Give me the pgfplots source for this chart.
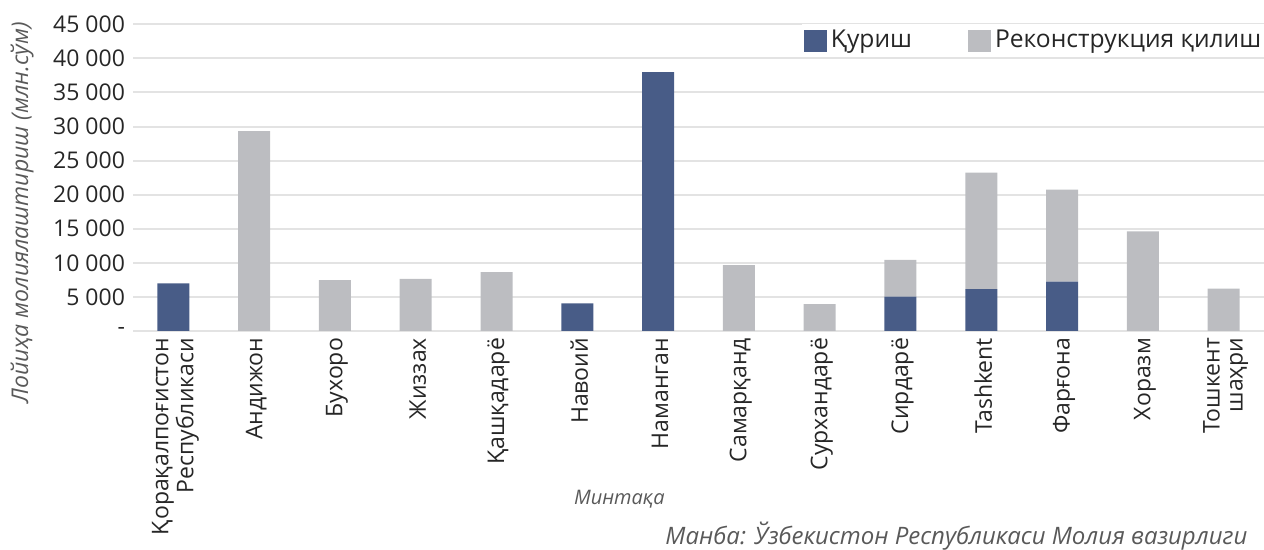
\documentclass[border=0pt]{standalone}
\usepackage{fontspec}
\setmainfont{Open Sans}
\usepackage{pgfplots}
\usepackage{pgfplotstable}
\pgfplotsset{compat=1.18}
\definecolor{kurish}{HTML}{485C87}
\definecolor{rekon}{HTML}{BCBDC1}
\definecolor{gridc}{HTML}{E3E3E3}
\definecolor{txt}{HTML}{262626}
\definecolor{lab}{HTML}{595959}
\pgfplotstableread{
x kurish rekon
0 7000 0
1 0 29340
2 0 7480
3 0 7630
4 0 8650
5 4060 0
6 38000 0
7 0 9680
8 0 3960
9 5030 5390
10 6160 17070
11 7240 13490
12 0 14630
13 0 6210
}\data
\begin{document}
\begin{tikzpicture}
\path[use as bounding box, clip] (-66.5pt,-109.5pt) rectangle (565.5pt,165.5pt);
\begin{axis}[
  scale only axis,
  width=565.5pt, height=153.35pt,
  ybar stacked, bar width=16pt,
  xmin=-0.5, xmax=13.5,
  ymin=0, ymax=45000,
  scaled y ticks=false,
  xtick=data,
  xticklabels={{Қорақалпоғистон\\Республикаси},Андижон,Бухоро,Жиззах,Қашқадарё,Навоий,Наманган,Самарқанд,Сурхандарё,Сирдарё,Tashkent,Фарғона,Хоразм,{Тошкент\\шаҳри}},
  x tick label style={rotate=90, anchor=east, align=right, font=\fontsize{11.5}{11.5}\selectfont, text=txt},
  xticklabel style={yshift=-1pt},
  ytick={0,5000,...,45000},
  yticklabels={-,5 000,10 000,15 000,20 000,25 000,30 000,35 000,40 000,45 000},
  y tick label style={font=\fontsize{11.5}{11.5}\selectfont, text=txt},
  major tick length=0pt,
  ymajorgrids, grid style={gridc, line width=1pt},
  axis line style={draw=none},
  yticklabel style={xshift=-0.5pt},
  xlabel={Минтақа},
  xlabel style={at={(axis description cs:0.43,-0.55)}, anchor=center, font=\itshape\fontsize{10}{10}\selectfont, text=lab},
  ylabel={Лойиҳа молиялаштириш (млн.сўм)},
  ylabel style={at={(axis description cs:-0.098,0.385)}, anchor=center, rotate=0, font=\itshape\fontsize{11.5}{11.5}\selectfont, text=lab},
  legend style={at={(axis description cs:0.591,0.947)}, anchor=west, draw=none, fill=white, legend columns=2, font=\fontsize{12.3}{12.3}\selectfont, text=txt, /tikz/every even column/.append style={column sep=26pt}, inner sep=1pt},
  legend image code/.code={\fill[#1] (0pt,-5.5pt) rectangle (11.5pt,5.5pt);},
  clip=false,
]
\addplot[fill=kurish, draw=none] table[x=x,y=kurish]{\data};
\addplot[fill=rekon, draw=none] table[x=x,y=rekon]{\data};
\legend{Қуриш, Реконструкция қилиш}
\node[anchor=base west, font=\itshape\fontsize{12}{12}\selectfont, text=lab, inner sep=0pt] at (axis description cs:0.4704,-0.695) {Манба: Ўзбекистон Республикаси Молия вазирлиги};
\end{axis}
\end{tikzpicture}
\end{document}
